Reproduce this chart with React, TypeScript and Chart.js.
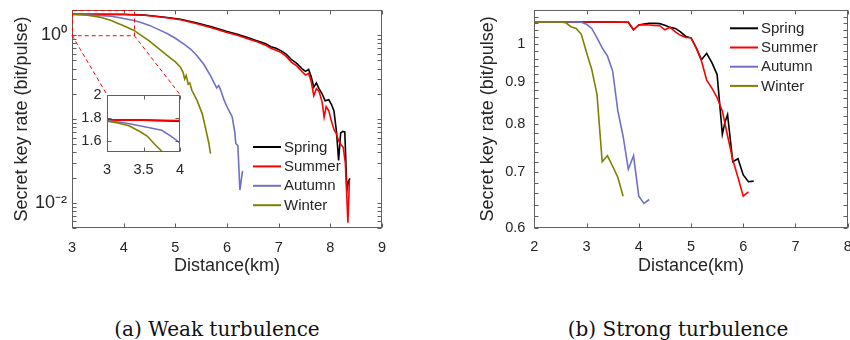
import { useEffect, useRef } from 'react';
import { Chart, registerables } from 'chart.js';

Chart.register(...registerables);

const SERIES_NAMES = ['Spring', 'Summer', 'Autumn', 'Winter'];
const SERIES_COLORS = ['#000000', '#ff0000', '#7070c8', '#808000'];
const DRAW_ORDER = [3, 2, 1, 0];

// (a) Weak turbulence
const WEAK_SPRING_X = [3.0, 3.5, 4.0, 4.4, 4.8, 5.1, 5.4, 5.7, 6.0, 6.2, 6.4, 6.55, 6.65, 6.75, 6.85, 6.95, 7.05, 7.15, 7.25, 7.35, 7.45, 7.52, 7.58, 7.63, 7.68, 7.73, 7.78, 7.84, 7.9, 7.97, 8.02, 8.07, 8.12, 8.16, 8.2, 8.24, 8.28, 8.32, 8.35, 8.38];
const WEAK_SPRING_Y = [1.78, 1.78, 1.77, 1.74, 1.64, 1.55, 1.41, 1.26, 1.11, 1.03, 0.94, 0.87, 0.83, 0.79, 0.73, 0.7, 0.65, 0.59, 0.51, 0.46, 0.4, 0.37, 0.39, 0.32, 0.24, 0.27, 0.23, 0.2, 0.165, 0.17, 0.15, 0.125, 0.07, 0.032, 0.068, 0.071, 0.07, 0.014, 0.018, 0.0195];
const WEAK_SUMMER_X = [3.0, 3.5, 4.0, 4.4, 4.8, 5.1, 5.4, 5.7, 6.0, 6.2, 6.4, 6.55, 6.65, 6.75, 6.85, 6.95, 7.05, 7.15, 7.25, 7.35, 7.45, 7.52, 7.58, 7.63, 7.68, 7.73, 7.78, 7.84, 7.88, 7.92, 7.97, 8.02, 8.07, 8.12, 8.16, 8.2, 8.25, 8.29, 8.31, 8.34, 8.37];
const WEAK_SUMMER_Y = [1.78, 1.78, 1.775, 1.73, 1.63, 1.53, 1.38, 1.23, 1.08, 1.0, 0.91, 0.85, 0.8, 0.76, 0.7, 0.66, 0.62, 0.555, 0.475, 0.43, 0.37, 0.335, 0.35, 0.28, 0.19, 0.23, 0.215, 0.16, 0.105, 0.14, 0.125, 0.095, 0.075, 0.066, 0.055, 0.05, 0.046, 0.03, 0.016, 0.0058, 0.0186];
const WEAK_AUTUMN_X = [3.0, 3.25, 3.5, 3.75, 3.875, 4.0, 4.2, 4.35, 4.5, 4.7, 4.85, 5.0, 5.16, 5.3, 5.42, 5.55, 5.68, 5.75, 5.8, 5.84, 5.88, 5.94, 6.0, 6.1, 6.15, 6.17, 6.21, 6.25, 6.3];
const WEAK_AUTUMN_Y = [1.776, 1.755, 1.723, 1.69, 1.64, 1.58, 1.5, 1.41, 1.31, 1.15, 1.04, 0.92, 0.79, 0.68, 0.57, 0.45, 0.33, 0.27, 0.235, 0.25, 0.22, 0.17, 0.14, 0.106, 0.07, 0.051, 0.048, 0.0142, 0.024];
const WEAK_WINTER_X = [3.0, 3.15, 3.3, 3.45, 3.55, 3.65, 3.76, 3.87, 4.0, 4.2, 4.5, 4.84, 5.0, 5.1, 5.15, 5.18, 5.21, 5.25, 5.28, 5.32, 5.42, 5.52, 5.58, 5.65, 5.68];
const WEAK_WINTER_Y = [1.77, 1.755, 1.73, 1.68, 1.64, 1.57, 1.5, 1.4, 1.3, 1.14, 0.85, 0.573, 0.48, 0.416, 0.36, 0.3, 0.33, 0.26, 0.27, 0.22, 0.167, 0.116, 0.08, 0.051, 0.0387];

// (b) Strong turbulence
const STRONG_SPRING_X = [2.0, 2.5, 3.0, 3.5, 3.8, 3.9, 4.0, 4.1, 4.2, 4.3, 4.4, 4.5, 4.6, 4.7, 4.8, 4.9, 5.0, 5.1, 5.2, 5.3, 5.4, 5.5, 5.6, 5.65, 5.7, 5.8, 5.9, 6.0, 6.1, 6.2];
const STRONG_SPRING_Y = [1.064, 1.064, 1.064, 1.064, 1.063, 1.041, 1.055, 1.058, 1.06, 1.06, 1.059, 1.054, 1.048, 1.045, 1.035, 1.022, 1.018, 0.99, 0.958, 0.975, 0.95, 0.919, 0.778, 0.805, 0.822, 0.721, 0.727, 0.695, 0.682, 0.683];
const STRONG_SUMMER_X = [2.0, 2.5, 3.0, 3.5, 3.8, 3.9, 4.0, 4.1, 4.2, 4.3, 4.4, 4.5, 4.6, 4.7, 4.8, 4.9, 5.0, 5.1, 5.2, 5.3, 5.4, 5.5, 5.6, 5.7, 5.8, 5.9, 6.0, 6.1];
const STRONG_SUMMER_Y = [1.064, 1.064, 1.064, 1.064, 1.063, 1.041, 1.055, 1.056, 1.055, 1.054, 1.053, 1.041, 1.048, 1.035, 1.025, 1.019, 1.018, 0.99, 0.955, 0.905, 0.885, 0.862, 0.83, 0.775, 0.725, 0.69, 0.655, 0.663];
const STRONG_AUTUMN_X = [2.0, 2.5, 2.8, 2.9, 3.0, 3.1, 3.2, 3.3, 3.4, 3.5, 3.6, 3.7, 3.8, 3.9, 4.0, 4.1, 4.2];
const STRONG_AUTUMN_Y = [1.064, 1.064, 1.064, 1.063, 1.057, 1.045, 1.018, 0.99, 0.968, 0.928, 0.83, 0.774, 0.706, 0.733, 0.655, 0.642, 0.649];
const STRONG_WINTER_X = [2.0, 2.5, 2.6, 2.7, 2.8, 2.9, 3.0, 3.1, 3.2, 3.3, 3.4, 3.5, 3.6, 3.7];
const STRONG_WINTER_Y = [1.064, 1.064, 1.062, 1.05, 1.045, 1.028, 0.977, 0.932, 0.87, 0.721, 0.733, 0.712, 0.69, 0.655];

// ticks
const WEAK_X_TICKS = [3, 4, 5, 6, 7, 8, 9];
const WEAK_Y_LABEL_TICKS = [0.01, 1];
const WEAK_Y_DECADES = [-3, -2, -1, 0];
const STRONG_X_TICKS = [2, 3, 4, 5, 6, 7, 8];
const STRONG_Y_LABEL_TICKS = [0.6, 0.7, 0.8, 0.9, 1];
const INSET_X_TICKS = [3, 3.5, 4];
const INSET_Y_TICKS = [1.6, 1.8, 2];

// zoom rectangle and inset placement, in weak-plot data coordinates
const ZOOM_BOX = { x0: 3, x1: 4.2, y0: 1, y1: 2 };
const INSET_BOX = { x0: 3.676, x1: 5.092, y0: 0.04, y1: 0.195 };

const TEXT = '#262626';
const FRAME = '#606060';
const FONT = "'Liberation Sans', Arial, sans-serif";
Chart.defaults.font.family = FONT;
Chart.defaults.color = TEXT;

function pts(xs: number[], ys: number[]) {
  return xs.map((x, i) => ({ x, y: ys[i] }));
}

function makeDatasets(series: [number[], number[]][]) {
  return series.map(([xs, ys], i) => ({
    label: SERIES_NAMES[i],
    data: pts(xs, ys),
    borderColor: SERIES_COLORS[i],
    backgroundColor: SERIES_COLORS[i],
    borderWidth: 1.6,
    pointRadius: 0,
    tension: 0,
    fill: false,
    order: DRAW_ORDER[i],
  }));
}

function weakMinorTicks() {
  const out: number[] = [];
  WEAK_Y_DECADES.forEach((d) => {
    for (let k = 1; k <= 9; k++) {
      const v = k * Math.pow(10, d);
      if (v >= 0.005 && v <= 2) out.push(v);
    }
  });
  return out;
}

function strongMinorTicks() {
  const out: number[] = [];
  for (let i = 30; i <= 55; i++) out.push(i / 50);
  return out;
}

function makeFrame(xTicks: number[], yTicks: number[], fillWhite = false) {
  return {
    id: 'frameTicks',
    beforeDatasetsDraw(chart: any) {
      if (!fillWhite) return;
      const { ctx, chartArea: ca } = chart;
      ctx.save();
      ctx.fillStyle = '#ffffff';
      ctx.fillRect(ca.left, ca.top, ca.right - ca.left, ca.bottom - ca.top);
      ctx.restore();
    },
    afterDatasetsDraw(chart: any) {
      const { ctx, chartArea: ca, scales } = chart;
      const sx = scales.x;
      const sy = scales.y;
      const len = 4;
      const L = Math.round(ca.left) + 0.5;
      const R = Math.round(ca.right) - 0.5;
      const T = Math.round(ca.top) + 0.5;
      const B = Math.round(ca.bottom) - 0.5;
      ctx.save();
      ctx.strokeStyle = FRAME;
      ctx.lineWidth = 1;
      ctx.setLineDash([]);
      ctx.beginPath();
      xTicks.forEach((v) => {
        const p = Math.round(sx.getPixelForValue(v)) + 0.5;
        ctx.moveTo(p, B);
        ctx.lineTo(p, B - len);
        ctx.moveTo(p, T);
        ctx.lineTo(p, T + len);
      });
      yTicks.forEach((v) => {
        const p = Math.round(sy.getPixelForValue(v)) + 0.5;
        ctx.moveTo(L, p);
        ctx.lineTo(L + len, p);
        ctx.moveTo(R, p);
        ctx.lineTo(R - len, p);
      });
      ctx.stroke();
      ctx.strokeRect(L, T, R - L, B - T);
      ctx.restore();
    },
  };
}

function makeLegend(dx: number, dy: number, rowH: number) {
  return {
    id: 'insideLegend',
    afterDraw(chart: any) {
      const { ctx, chartArea: ca } = chart;
      ctx.save();
      ctx.font = `15px ${FONT}`;
      ctx.textBaseline = 'middle';
      ctx.textAlign = 'left';
      chart.data.datasets.forEach((ds: any, i: number) => {
        const y = ca.top + dy + i * rowH;
        const x = ca.left + dx;
        ctx.strokeStyle = ds.borderColor;
        ctx.lineWidth = 2;
        ctx.beginPath();
        ctx.moveTo(x, y);
        ctx.lineTo(x + 28, y);
        ctx.stroke();
        ctx.fillStyle = TEXT;
        ctx.fillText(ds.label, x + 31, y + 0.5);
      });
      ctx.restore();
    },
  };
}

const zoomPlugin = {
  id: 'zoomBox',
  afterDatasetsDraw(chart: any) {
    const { ctx, scales } = chart;
    const sx = scales.x;
    const sy = scales.y;
    const x0 = sx.getPixelForValue(ZOOM_BOX.x0);
    const x1 = sx.getPixelForValue(ZOOM_BOX.x1);
    const y0 = sy.getPixelForValue(ZOOM_BOX.y0);
    const y1 = sy.getPixelForValue(ZOOM_BOX.y1);
    const ix0 = sx.getPixelForValue(INSET_BOX.x0);
    const ix1 = sx.getPixelForValue(INSET_BOX.x1);
    const iy = sy.getPixelForValue(INSET_BOX.y1);
    ctx.save();
    ctx.strokeStyle = '#ff0000';
    ctx.lineWidth = 1;
    ctx.setLineDash([4, 3]);
    ctx.beginPath();
    ctx.rect(x0 + 0.5, y1 + 0.5, x1 - x0, y0 - y1);
    ctx.moveTo(x0, y0);
    ctx.lineTo(ix0, iy);
    ctx.moveTo(x1, y0);
    ctx.lineTo(ix1, iy);
    ctx.stroke();
    ctx.restore();
  },
};

function axisCommon(tickPad: number, size = 14.5) {
  return {
    grid: { display: false, drawTicks: false },
    border: { display: false },
    ticks: { padding: tickPad, font: { size }, color: TEXT, autoSkip: false, maxRotation: 0, callback: (v: number) => String(v) },
  };
}

function fixX(height: number) {
  return (s: any) => { s.height = height; s.paddingLeft = 0; s.paddingRight = 0; };
}
function fixY(width: number) {
  return (s: any) => { s.width = width; s.paddingTop = 0; s.paddingBottom = 0; };
}

const WEAK_H = 277;
const STRONG_W = 440;

export default function App() {
  const weakRef = useRef<HTMLCanvasElement>(null);
  const insetRef = useRef<HTMLCanvasElement>(null);
  const strongRef = useRef<HTMLCanvasElement>(null);

  useEffect(() => {
    const charts: Chart[] = [];
    const weakSeries: [number[], number[]][] = [
      [WEAK_SPRING_X, WEAK_SPRING_Y],
      [WEAK_SUMMER_X, WEAK_SUMMER_Y],
      [WEAK_AUTUMN_X, WEAK_AUTUMN_Y],
      [WEAK_WINTER_X, WEAK_WINTER_Y],
    ];
    const strongSeries: [number[], number[]][] = [
      [STRONG_SPRING_X, STRONG_SPRING_Y],
      [STRONG_SUMMER_X, STRONG_SUMMER_Y],
      [STRONG_AUTUMN_X, STRONG_AUTUMN_Y],
      [STRONG_WINTER_X, STRONG_WINTER_Y],
    ];

    const weakY = axisCommon(5, 18);
    (weakY.ticks as any).callback = (v: number) => (v === 1 ? '10⁰' : v === 0.01 ? '10⁻²' : '');

    const weak = new Chart(weakRef.current!, {
      type: 'line',
      data: { datasets: makeDatasets(weakSeries) as any },
      options: {
        animation: false,
        responsive: false,
        devicePixelRatio: 1,
        layout: { padding: { left: 0, top: 10, right: 43, bottom: 0 } },
        plugins: { legend: { display: false }, tooltip: { enabled: false } },
        scales: {
          x: {
            type: 'linear',
            min: 3,
            max: 9,
            ...axisCommon(11),
            afterBuildTicks: (s: any) => { s.ticks = WEAK_X_TICKS.map((v) => ({ value: v })); },
            afterFit: fixX(WEAK_H - 228),
            title: { display: true, text: 'Distance(km)', font: { size: 18 }, color: TEXT, padding: { top: 0, bottom: 0 } },
          } as any,
          y: {
            type: 'logarithmic',
            min: 0.005,
            max: 2,
            ...weakY,
            afterBuildTicks: (s: any) => { s.ticks = WEAK_Y_LABEL_TICKS.map((v) => ({ value: v })); },
            afterFit: fixY(72),
            title: { display: true, text: 'Secret key rate (bit/pulse)', font: { size: 18 }, color: TEXT, padding: { top: 11.7, bottom: 0 } },
          } as any,
        },
      } as any,
      plugins: [makeFrame(WEAK_X_TICKS, weakMinorTicks()), zoomPlugin, makeLegend(181, 137, 19.4)] as any,
    });
    charts.push(weak);

    // inset, placed from the main chart's scales
    const sx = weak.scales.x;
    const sy = weak.scales.y;
    const l = Math.round(sx.getPixelForValue(INSET_BOX.x0));
    const r = Math.round(sx.getPixelForValue(INSET_BOX.x1));
    const t = Math.round(sy.getPixelForValue(INSET_BOX.y1));
    const b = Math.round(sy.getPixelForValue(INSET_BOX.y0));
    const YW = 37, PT = 10, PR = 12, XH = 28;
    const ic = insetRef.current!;
    ic.width = r - l + YW + PR;
    ic.height = b - t + PT + XH;
    ic.style.left = `${l - YW}px`;
    ic.style.top = `${t - PT}px`;
    const inset = new Chart(ic, {
      type: 'line',
      data: { datasets: makeDatasets(weakSeries) as any },
      options: {
        animation: false,
        responsive: false,
        devicePixelRatio: 1,
        layout: { padding: { left: 0, top: PT, right: PR, bottom: 0 } },
        plugins: { legend: { display: false }, tooltip: { enabled: false } },
        scales: {
          x: {
            type: 'linear',
            min: 3,
            max: 4,
            ...axisCommon(9.5),
            afterBuildTicks: (s: any) => { s.ticks = INSET_X_TICKS.map((v) => ({ value: v })); },
            afterFit: fixX(XH),
          } as any,
          y: {
            type: 'linear',
            min: 1.5,
            max: 2,
            ...axisCommon(5.5),
            afterBuildTicks: (s: any) => { s.ticks = INSET_Y_TICKS.map((v) => ({ value: v })); },
            afterFit: fixY(YW),
          } as any,
        },
      } as any,
      plugins: [makeFrame(INSET_X_TICKS, INSET_Y_TICKS, true)] as any,
    });
    charts.push(inset);

    const strong = new Chart(strongRef.current!, {
      type: 'line',
      data: { datasets: makeDatasets(strongSeries) as any },
      options: {
        animation: false,
        responsive: false,
        devicePixelRatio: 1,
        layout: { padding: { left: 0, top: 10, right: STRONG_W - 422.7, bottom: 0 } },
        plugins: { legend: { display: false }, tooltip: { enabled: false } },
        scales: {
          x: {
            type: 'linear',
            min: 2,
            max: 8,
            ...axisCommon(10.3),
            afterBuildTicks: (s: any) => { s.ticks = STRONG_X_TICKS.map((v) => ({ value: v })); },
            afterFit: fixX(WEAK_H - 227.7),
            title: { display: true, text: 'Distance(km)', font: { size: 18 }, color: TEXT, padding: { top: 0, bottom: 0 } },
          } as any,
          y: {
            type: 'logarithmic',
            min: 0.6,
            max: 1.1,
            ...axisCommon(9),
            afterBuildTicks: (s: any) => { s.ticks = STRONG_Y_LABEL_TICKS.map((v) => ({ value: v })); },
            afterFit: fixY(109.3),
            title: { display: true, text: 'Secret key rate (bit/pulse)', font: { size: 18 }, color: TEXT, padding: { top: 52.5, bottom: 0 } },
          } as any,
        },
      } as any,
      plugins: [makeFrame(STRONG_X_TICKS, strongMinorTicks()), makeLegend(195.7, 18.3, 19.2)] as any,
    });
    charts.push(strong);

    return () => charts.forEach((c) => c.destroy());
  }, []);

  const captionStyle: any = {
    position: 'absolute',
    top: 319,
    width: 400,
    textAlign: 'center',
    fontFamily: "'DejaVu Serif', serif",
    fontSize: 20,
    lineHeight: '20px',
    color: '#111',
    whiteSpace: 'nowrap',
  };

  return (
    <div style={{ position: 'fixed', left: 0, top: 0, width: 850, height: 340, background: '#fff', overflow: 'hidden' }}>
      <canvas ref={weakRef} width={425} height={WEAK_H} style={{ position: 'absolute', left: 0, top: 0 }} />
      <canvas ref={insetRef} style={{ position: 'absolute' }} />
      <canvas ref={strongRef} width={STRONG_W} height={WEAK_H} style={{ position: 'absolute', left: 425, top: 0 }} />
      <div style={{ ...captionStyle, left: 217 - 200 }}>(a) Weak turbulence</div>
      <div style={{ ...captionStyle, left: 678 - 200 }}>(b) Strong turbulence</div>
    </div>
  );
}
